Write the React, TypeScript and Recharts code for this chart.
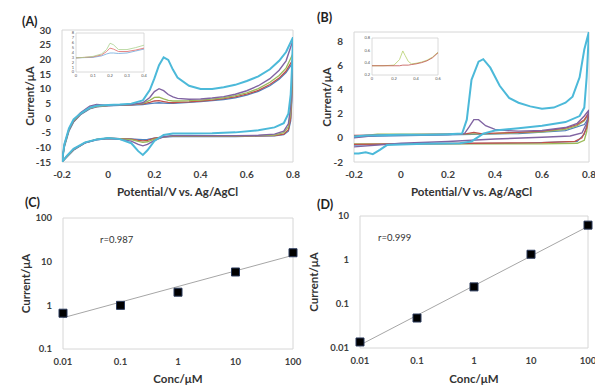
import type { CSSProperties } from "react";
import { ComposedChart, Line, LineChart, ReferenceArea, Scatter, XAxis, YAxis } from "recharts";

type Pt = { x: number; y: number };
type Curve = { key: string; color: string; width: number; data: Pt[] };

// ---- (A) cyclic voltammograms: potentials of the forward / reverse sweeps
const A_FWD_X = [-0.2, -0.19, -0.17, -0.15, -0.12, -0.08, -0.05, 0, 0.05, 0.1, 0.15, 0.18, 0.2, 0.22, 0.24, 0.26, 0.28, 0.3, 0.35, 0.4, 0.45, 0.5, 0.55, 0.6, 0.65, 0.7, 0.74, 0.77, 0.8];
const A_REV_X = [0.8, 0.795, 0.79, 0.78, 0.76, 0.72, 0.65, 0.55, 0.45, 0.35, 0.28, 0.24, 0.2, 0.17, 0.15, 0.13, 0.1, 0.05, 0, -0.05, -0.1, -0.15, -0.18, -0.2];

const A_CYAN_FWD = [-15, -9, -3.5, -0.5, 1.5, 3.5, 4.2, 4.4, 4.6, 4.9, 6, 9.5, 13.5, 18, 20.7, 19.8, 16.5, 13.8, 11, 9.9, 9.9, 10.5, 11.3, 12.6, 14.2, 16.6, 19.5, 22.5, 27.5];
const A_CYAN_REV = [27.5, 16, 8, 1.5, -1.8, -3.2, -4.2, -4.9, -5.2, -5.3, -5.3, -5.8, -7.8, -11, -12.6, -11.3, -8.6, -7.2, -6.8, -7.3, -8.3, -10.5, -13, -15];
const A_PURPLE_FWD = [-15, -9, -3.8, -0.8, 1.8, 4, 4.6, 4.3, 4.4, 4.6, 5.2, 7, 9, 10, 9.3, 8, 7.2, 6.7, 6.4, 6.5, 6.8, 7.3, 8.1, 9.3, 11, 13.4, 16.3, 19.5, 26.5];
const A_PURPLE_REV = [26.5, 12, 4, -2, -4.5, -5.5, -5.9, -6, -6, -6, -6, -6.4, -7.6, -9, -9.5, -9, -7.9, -7.3, -7, -7.4, -8.5, -10.6, -13, -15];
const A_GREEN_FWD = [-15, -9.5, -4, -1, 1.5, 3.4, 4, 4.3, 4.4, 4.6, 5, 6, 7, 7.1, 6.5, 6, 5.8, 5.8, 5.9, 6.1, 6.4, 6.9, 7.6, 8.6, 10, 12.2, 14.5, 17, 22];
const A_GREEN_REV = [22, 10, 2, -3, -5, -5.8, -6, -6.1, -6.1, -6.1, -6.1, -6.4, -7.2, -8.1, -8.3, -8, -7.4, -7.1, -6.9, -7.3, -8.4, -10.7, -13.2, -15];
const A_RED_FWD = [-15, -9.5, -4, -1.2, 1.3, 3.3, 3.9, 4.2, 4.4, 4.5, 4.8, 5.3, 5.8, 5.9, 5.6, 5.3, 5.2, 5.3, 5.5, 5.8, 6.1, 6.6, 7.2, 8.1, 9.4, 11.4, 13.6, 16, 20];
const A_RED_REV = [20, 8, 0, -4, -5.5, -6, -6.1, -6.2, -6.2, -6.2, -6.2, -6.4, -6.9, -7.6, -7.8, -7.6, -7.2, -7, -6.9, -7.3, -8.4, -10.8, -13.3, -15];
const A_BLUE_FWD = [-15, -10, -4.5, -1.4, 1.1, 3.1, 3.8, 4.1, 4.3, 4.4, 4.6, 4.9, 5.1, 5.2, 5.1, 5, 5, 5.1, 5.3, 5.6, 5.9, 6.3, 6.9, 7.8, 9.1, 11, 13.2, 15.5, 19];
const A_BLUE_REV = [19, 6, -1, -4.5, -5.7, -6.1, -6.2, -6.3, -6.3, -6.3, -6.3, -6.5, -6.9, -7.3, -7.4, -7.3, -7.1, -7, -6.9, -7.4, -8.5, -11, -13.4, -15];

// inset of (A)
const A_INSET_X = [0, 0.05, 0.1, 0.15, 0.18, 0.2, 0.22, 0.25, 0.3, 0.35, 0.4];
const A_INSET_GREEN = [2.9, 3.0, 3.2, 3.7, 4.6, 5.9, 5.6, 4.6, 4.6, 5.0, 5.5];
const A_INSET_RED = [2.9, 3.0, 3.1, 3.5, 4.2, 4.9, 4.7, 4.2, 4.2, 4.5, 4.9];
const A_INSET_BLUE = [2.9, 2.95, 3.0, 3.3, 3.7, 3.9, 3.9, 3.8, 3.9, 4.3, 4.7];

// ---- (B) cyclic voltammograms, [potential, current] along each sweep
const B_CYAN: [number, number][] = [
  [-0.2, 0.1], [-0.15, 0.2], [0, 0.25], [0.1, 0.25], [0.2, 0.3], [0.26, 0.35], [0.28, 1.5], [0.3, 4.8], [0.33, 6.3], [0.35, 6.5],
  [0.38, 5.8], [0.42, 4.3], [0.46, 3.3], [0.5, 2.9], [0.55, 2.6], [0.6, 2.4], [0.65, 2.5], [0.7, 2.9], [0.73, 3.4], [0.76, 5],
  [0.78, 7.3], [0.8, 8.8], [0.79, 5], [0.78, 2.5], [0.76, 1.8], [0.7, 1.3], [0.6, 1.0], [0.5, 0.8], [0.4, 0.6], [0.35, 0.35],
  [0.3, -0.3], [0.25, -0.45], [0.1, -0.5], [0, -0.55], [-0.06, -0.6], [-0.09, -1.0], [-0.12, -1.35], [-0.15, -1.2], [-0.18, -1.3], [-0.2, -1.3],
];
const B_PURPLE: [number, number][] = [
  [-0.2, 0.0], [-0.1, 0.2], [0.2, 0.28], [0.27, 0.35], [0.29, 0.9], [0.31, 1.5], [0.33, 1.5], [0.36, 1.0], [0.4, 0.7], [0.45, 0.6],
  [0.5, 0.55], [0.6, 0.6], [0.7, 0.85], [0.75, 1.2], [0.78, 1.8], [0.8, 2.3], [0.79, 1.2], [0.77, 0.4], [0.72, 0.15], [0.6, 0.05],
  [0.4, -0.1], [0.2, -0.3], [0, -0.45], [-0.2, -0.75],
];
const B_GREEN: [number, number][] = [
  [-0.2, 0.1], [-0.1, 0.3], [0.2, 0.3], [0.4, 0.35], [0.6, 0.5], [0.7, 0.7], [0.75, 1.0], [0.78, 1.4], [0.8, 2.0], [0.79, 0.5],
  [0.78, -0.2], [0.75, -0.45], [0.6, -0.5], [0.2, -0.5], [0, -0.5], [-0.2, -0.5],
];
const B_RED: [number, number][] = [
  [-0.2, 0.2], [0.2, 0.3], [0.28, 0.35], [0.31, 0.45], [0.34, 0.35], [0.5, 0.45], [0.6, 0.55], [0.7, 0.8], [0.75, 1.1], [0.78, 1.5],
  [0.8, 2.1], [0.79, 0.8], [0.77, 0], [0.74, -0.3], [0.6, -0.4], [0.3, -0.45], [0, -0.5], [-0.2, -0.55],
];
const B_BLUE: [number, number][] = [
  [-0.2, 0.1], [0.2, 0.25], [0.5, 0.35], [0.7, 0.6], [0.78, 1.1], [0.8, 1.7], [0.78, 0.3], [0.75, -0.3], [0.5, -0.45], [0, -0.5], [-0.2, -0.6],
];

// inset of (B)
const B_INSET_X = [0, 0.1, 0.2, 0.25, 0.28, 0.3, 0.33, 0.36, 0.4, 0.45, 0.5, 0.55, 0.6];
const B_INSET_GREEN = [0.35, 0.35, 0.36, 0.45, 0.59, 0.52, 0.42, 0.38, 0.39, 0.41, 0.44, 0.49, 0.57];
const B_INSET_RED = [0.35, 0.35, 0.35, 0.35, 0.36, 0.36, 0.36, 0.37, 0.38, 0.4, 0.43, 0.48, 0.56];

// ---- (C) and (D) calibration plots
const CONC = [0.01, 0.1, 1, 10, 100];
const C_CURRENT = [0.66, 1.0, 2.0, 5.8, 16];
const D_CURRENT = [0.0137, 0.048, 0.245, 1.35, 6.2];
const TREND_X = [0.01, 100];
const C_TREND = [0.52, 14];
const D_TREND = [0.0117, 5.8];

const CV_X_TICKS = [-0.2, 0, 0.2, 0.4, 0.6, 0.8];
const A_Y_TICKS = [-15, -10, -5, 0, 5, 10, 15, 20, 25, 30];
const B_Y_TICKS = [-2, 0, 2, 4, 6, 8];
const C_Y_TICKS = [0.1, 1, 10, 100];
const D_Y_TICKS = [0.01, 0.1, 1, 10];

const COLORS = { cyan: "#4cb9d9", purple: "#8064a2", green: "#9bbb59", red: "#c0504d", blue: "#4f81bd" };

const FONT = "Lato, 'Open Sans', 'DejaVu Sans', sans-serif";
const tickStyle = { fontSize: 10, fontWeight: 700, fill: "#404040", fontFamily: FONT };
const titleStyle: CSSProperties = { fontSize: 11.5, fontWeight: 700, fill: "#333", fontFamily: FONT };
const insetTick = { fontSize: 4, fill: "#555", fontFamily: FONT };

const zip = (xs: number[], ys: number[]): Pt[] => xs.map((x, i) => ({ x, y: ys[i] }));
const sweep = (fx: number[], fy: number[], rx: number[], ry: number[]): Pt[] => [...zip(fx, fy), ...zip(rx, ry).slice(1)];
const pairs = (p: [number, number][]): Pt[] => p.map(([x, y]) => ({ x, y }));

const A_CURVES: Curve[] = [
  { key: "blue", color: COLORS.blue, width: 1.3, data: sweep(A_FWD_X, A_BLUE_FWD, A_REV_X, A_BLUE_REV) },
  { key: "red", color: COLORS.red, width: 1.3, data: sweep(A_FWD_X, A_RED_FWD, A_REV_X, A_RED_REV) },
  { key: "green", color: COLORS.green, width: 1.3, data: sweep(A_FWD_X, A_GREEN_FWD, A_REV_X, A_GREEN_REV) },
  { key: "purple", color: COLORS.purple, width: 1.4, data: sweep(A_FWD_X, A_PURPLE_FWD, A_REV_X, A_PURPLE_REV) },
  { key: "cyan", color: COLORS.cyan, width: 2, data: sweep(A_FWD_X, A_CYAN_FWD, A_REV_X, A_CYAN_REV) },
];

const B_CURVES: Curve[] = [
  { key: "blue", color: COLORS.blue, width: 1.2, data: pairs(B_BLUE) },
  { key: "green", color: COLORS.green, width: 1.3, data: pairs(B_GREEN) },
  { key: "red", color: COLORS.red, width: 1.3, data: pairs(B_RED) },
  { key: "purple", color: COLORS.purple, width: 1.4, data: pairs(B_PURPLE) },
  { key: "cyan", color: COLORS.cyan, width: 2, data: pairs(B_CYAN) },
];

const A_INSET: Curve[] = [
  { key: "blue", color: "#6fa8dc", width: 0.8, data: zip(A_INSET_X, A_INSET_BLUE) },
  { key: "red", color: "#e06666", width: 0.8, data: zip(A_INSET_X, A_INSET_RED) },
  { key: "green", color: "#a9d08e", width: 0.8, data: zip(A_INSET_X, A_INSET_GREEN) },
];
const B_INSET: Curve[] = [
  { key: "green", color: "#b5cf6b", width: 0.8, data: zip(B_INSET_X, B_INSET_GREEN) },
  { key: "red", color: "#c0504d", width: 0.8, data: zip(B_INSET_X, B_INSET_RED) },
];

type Margin = { top: number; right: number; bottom: number; left: number };

function CvPanel({
  left, top, width, height, margin, yWidth, xHeight, yDomain, yTicks, curves, yLabelOffset,
}: {
  left: number; top: number; width: number; height: number; margin: Margin; yWidth: number; xHeight: number;
  yDomain: [number, number]; yTicks: number[]; curves: Curve[]; yLabelOffset: number;
}) {
  return (
    <div style={{ position: "absolute", left, top }}>
      <LineChart width={width} height={height} margin={margin}>
        <XAxis
          type="number" dataKey="x" domain={[-0.2, 0.8]} ticks={CV_X_TICKS} interval={0} allowDataOverflow
          axisLine={false} tickLine={false} tickSize={0} tickMargin={9} height={xHeight} tick={tickStyle}
          label={{ value: "Potential/V vs. Ag/AgCl", position: "insideBottom", offset: 4, style: titleStyle }}
        />
        <YAxis
          type="number" domain={yDomain} ticks={yTicks} interval={0} allowDataOverflow
          axisLine={false} tickLine={false} tickSize={0} tickMargin={11} width={yWidth} tick={tickStyle}
          label={{ value: "Current/μA", angle: -90, position: "insideLeft", offset: yLabelOffset, style: { ...titleStyle, textAnchor: "middle" } }}
        />
        <ReferenceArea x1={-0.2} x2={0.8} y1={yDomain[0]} y2={yDomain[1]} fill="none" stroke="#d6d6d6" strokeWidth={1} />
        {curves.map((c) => (
          <Line key={c.key} data={c.data} dataKey="y" type="linear" stroke={c.color} strokeWidth={c.width} dot={false} isAnimationActive={false} />
        ))}
      </LineChart>
    </div>
  );
}

function Inset({
  left, top, width, height, margin, yWidth, xHeight, xDomain, xTicks, yDomain, yTicks, curves,
}: {
  left: number; top: number; width: number; height: number; margin: Margin; yWidth: number; xHeight: number;
  xDomain: [number, number]; xTicks: number[]; yDomain: [number, number]; yTicks: number[]; curves: Curve[];
}) {
  return (
    <div style={{ position: "absolute", left, top }}>
      <LineChart width={width} height={height} margin={margin}>
        <XAxis type="number" dataKey="x" domain={xDomain} ticks={xTicks} interval={0} axisLine={false} tickLine={false} tickSize={0} tickMargin={2} height={xHeight} tick={insetTick} />
        <YAxis type="number" domain={yDomain} ticks={yTicks} interval={0} axisLine={false} tickLine={false} tickSize={0} tickMargin={2} width={yWidth} tick={insetTick} />
        <ReferenceArea x1={xDomain[0]} x2={xDomain[1]} y1={yDomain[0]} y2={yDomain[1]} fill="#fff" fillOpacity={1} stroke="#d0d0d0" strokeWidth={0.8} />
        {curves.map((c) => (
          <Line key={c.key} data={c.data} dataKey="y" type="linear" stroke={c.color} strokeWidth={c.width} dot={false} isAnimationActive={false} />
        ))}
      </LineChart>
    </div>
  );
}

function LogPanel({
  left, top, width, height, margin, yWidth, xHeight, yDomain, yTicks, values, trend, yLabelOffset,
}: {
  left: number; top: number; width: number; height: number; margin: Margin; yWidth: number; xHeight: number;
  yDomain: [number, number]; yTicks: number[]; values: number[]; trend: number[]; yLabelOffset: number;
}) {
  const points = zip(CONC, values);
  const trendLine = zip(TREND_X, trend);
  const logTick = { ...tickStyle, fontSize: 9.5 };
  return (
    <div style={{ position: "absolute", left, top }}>
      <ComposedChart width={width} height={height} margin={margin}>
        <XAxis
          type="number" dataKey="x" scale="log" domain={[0.01, 100]} ticks={CONC} interval={0}
          tickFormatter={(v) => String(v)} axisLine={false} tickLine={false} tickSize={0} tickMargin={9} height={xHeight} tick={logTick}
          label={{ value: "Conc/μM", position: "insideBottom", offset: 2, style: titleStyle }}
        />
        <YAxis
          type="number" scale="log" domain={yDomain} ticks={yTicks} interval={0}
          tickFormatter={(v) => String(v)} axisLine={false} tickLine={false} tickSize={0} tickMargin={11} width={yWidth} tick={logTick}
          label={{ value: "Current/μA", angle: -90, position: "insideLeft", offset: yLabelOffset, style: { ...titleStyle, textAnchor: "middle" } }}
        />
        <ReferenceArea x1={0.01} x2={100} y1={yDomain[0]} y2={yDomain[1]} fill="none" stroke="#d6d6d6" strokeWidth={1} />
        <Line data={trendLine} dataKey="y" type="linear" stroke="#a6a6a6" strokeWidth={1} dot={false} isAnimationActive={false} />
        <Scatter data={points} dataKey="y" shape="square" fill="#000" stroke="#2b3a5c" strokeWidth={1} isAnimationActive={false} />
      </ComposedChart>
    </div>
  );
}

const tagStyle: CSSProperties = { position: "absolute", fontFamily: FONT, fontWeight: 700, fontSize: 12.5, color: "#222", lineHeight: "14px" };
const rStyle: CSSProperties = { position: "absolute", fontFamily: FONT, fontSize: 9.5, color: "#333", lineHeight: "11px" };

export default function App() {
  return (
    <div style={{ position: "absolute", left: 0, top: 0, width: 595, height: 385, background: "#fff", overflow: "hidden" }}>
      <CvPanel
        left={0} top={0} width={305} height={200} margin={{ top: 30, right: 12, bottom: 0, left: 22 }}
        yWidth={40} xHeight={38} yDomain={[-15, 30]} yTicks={A_Y_TICKS} curves={A_CURVES} yLabelOffset={8}
      />
      <CvPanel
        left={295} top={0} width={300} height={200} margin={{ top: 32, right: 6, bottom: 0, left: 19 }}
        yWidth={40} xHeight={38} yDomain={[-2, 8.75]} yTicks={B_Y_TICKS} curves={B_CURVES} yLabelOffset={13}
      />
      <Inset
        left={60} top={29} width={88} height={54} margin={{ top: 4, right: 4, bottom: 0, left: 0 }}
        yWidth={16} xHeight={11} xDomain={[0, 0.4]} xTicks={[0, 0.1, 0.2, 0.3, 0.4]}
        yDomain={[0, 8]} yTicks={[0, 1, 2, 3, 4, 5, 6, 7, 8]} curves={A_INSET}
      />
      <Inset
        left={358} top={33} width={84} height={50} margin={{ top: 5, right: 4, bottom: 0, left: 0 }}
        yWidth={14} xHeight={8} xDomain={[0, 0.6]} xTicks={[0, 0.2, 0.4, 0.6]}
        yDomain={[0.2, 0.8]} yTicks={[0.2, 0.4, 0.6, 0.8]} curves={B_INSET}
      />
      <LogPanel
        left={0} top={195} width={305} height={190} margin={{ top: 23, right: 12, bottom: 0, left: 20 }}
        yWidth={43} xHeight={36} yDomain={[0.1, 100]} yTicks={C_Y_TICKS} values={C_CURRENT} trend={C_TREND} yLabelOffset={6}
      />
      <LogPanel
        left={295} top={195} width={300} height={190} margin={{ top: 21, right: 7, bottom: 0, left: 10 }}
        yWidth={55} xHeight={37} yDomain={[0.01, 10]} yTicks={D_Y_TICKS} values={D_CURRENT} trend={D_TREND} yLabelOffset={9}
      />
      <div style={{ ...tagStyle, left: 22, top: 15 }}>(A)</div>
      <div style={{ ...tagStyle, left: 317, top: 11 }}>(B)</div>
      <div style={{ ...tagStyle, left: 25, top: 196 }}>(C)</div>
      <div style={{ ...tagStyle, left: 317, top: 198 }}>(D)</div>
      <div style={{ ...rStyle, left: 100, top: 234 }}>r=0.987</div>
      <div style={{ ...rStyle, left: 378, top: 232 }}>r=0.999</div>
    </div>
  );
}
